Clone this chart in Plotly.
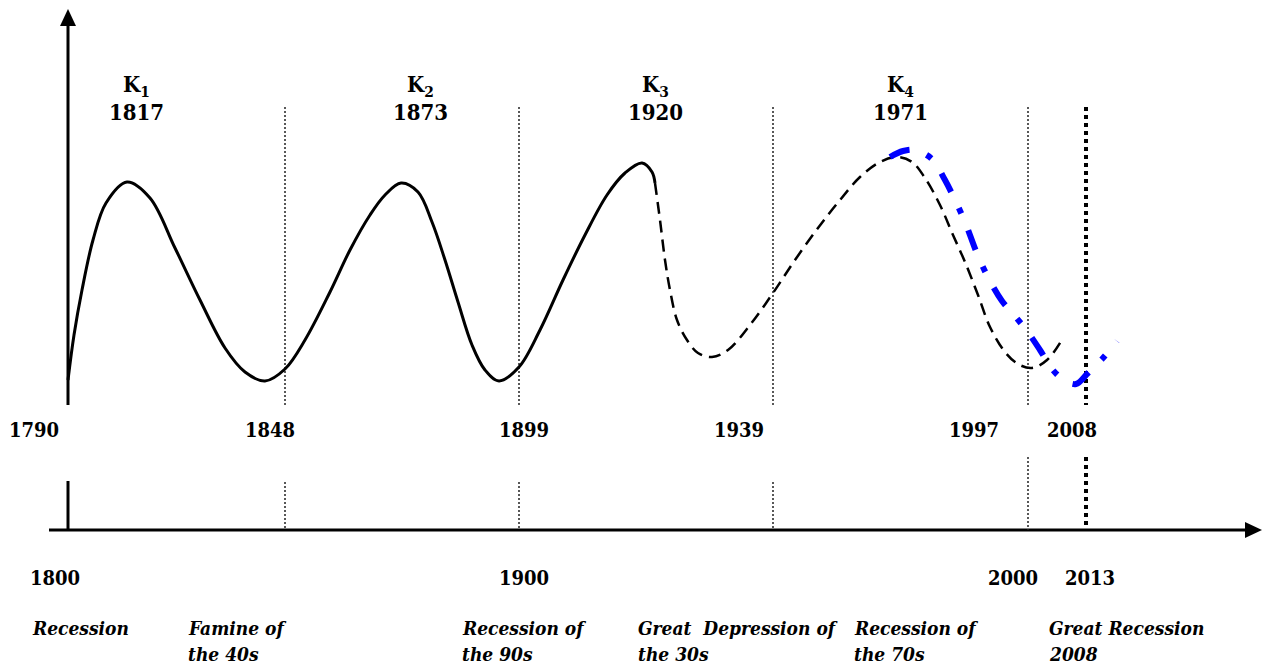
import plotly.graph_objects as go

# ---------------- data (diagram units: x to the right, y downwards) ----------------
solid_x = [68, 74, 82, 93, 106, 127, 150, 175, 200, 225, 245, 265, 285, 305, 330, 350, 370, 385, 401,
           418, 432, 445, 458, 472, 485, 499, 519, 540, 563, 585, 607, 625, 642, 652, 655]
solid_y = [380, 335, 290, 240, 203, 182, 198, 248, 300, 348, 372, 381, 369, 340, 292, 250, 215, 195, 183,
           192, 222, 260, 302, 345, 370, 381, 367, 330, 280, 235, 195, 173, 163, 172, 183]

dash_x = [655, 660, 665, 670, 677, 687, 698, 712, 728, 750, 773, 795, 818, 840, 860, 880, 897,
          912, 925, 940, 953, 965, 978, 990, 1005, 1018, 1032, 1047, 1063]
dash_y = [183, 220, 260, 290, 320, 340, 353, 357, 350, 325, 293, 260, 228, 200, 177, 162, 157,
          162, 178, 205, 235, 262, 295, 327, 352, 364, 368, 360, 338]

blue_x = [890, 903, 915, 932, 945, 955, 965, 978, 990, 1002, 1014, 1027, 1040, 1052, 1064, 1076, 1088, 1103, 1117]
blue_y = [157, 151, 150, 159, 180, 200, 222, 256, 281, 301, 315, 331, 350, 369, 380, 384, 373, 358, 341]

k_labels = ["K<sub>1</sub>", "K<sub>2</sub>", "K<sub>3</sub>", "K<sub>4</sub>"]
k_years = ["1817", "1873", "1920", "1971"]
k_x = [136, 420, 655, 900]

divider_x = [285, 519, 773, 1028]
upper_years = ["1790", "1848", "1899", "1939", "1997", "2008"]
upper_years_x = [34, 270, 524, 739, 974, 1072]
lower_years = ["1800", "1900", "2000", "2013"]
lower_years_x = [55, 524, 1013, 1090]

events_line1 = ["Recession", "Famine of", "Recession of", "Great\u00a0 Depression of", "Recession of", "Great Recession"]
events_line2 = ["", "the 40s", "the 90s", "the 30s", "the 70s", "2008"]
events_x = [30, 186, 460, 636, 852, 1047]

FONT = "DejaVu Serif Condensed, DejaVu Serif, serif"

fig = go.Figure()

fig.add_trace(go.Scatter(x=solid_x, y=solid_y, mode="lines",
                         line=dict(color="black", width=3, shape="spline", smoothing=1.0),
                         hoverinfo="skip"))
fig.add_trace(go.Scatter(x=dash_x, y=dash_y, mode="lines",
                         line=dict(color="black", width=2.5, shape="spline", smoothing=1.0,
                                   dash="12px,7px"),
                         hoverinfo="skip"))
fig.add_trace(go.Scatter(x=blue_x, y=blue_y, mode="lines",
                         line=dict(color="#0000FF", width=6, shape="spline", smoothing=1.0,
                                   dash="21px,18px,6px,18px"),
                         hoverinfo="skip"))

shapes = []
# axes
shapes.append(dict(type="line", x0=68, x1=68, y0=405, y1=22, line=dict(color="black", width=3)))
shapes.append(dict(type="line", x0=68, x1=68, y0=481, y1=531, line=dict(color="black", width=3)))
shapes.append(dict(type="path", path="M 68 9 L 60 26 L 76 26 Z", fillcolor="black", line=dict(width=0)))
shapes.append(dict(type="line", x0=49, x1=1250, y0=530, y1=530, line=dict(color="black", width=3)))
shapes.append(dict(type="path", path="M 1262 530 L 1245 522 L 1245 538 Z", fillcolor="black", line=dict(width=0)))

# thin dotted dividers
for i, xv in enumerate(divider_x):
    shapes.append(dict(type="line", x0=xv, x1=xv, y0=107, y1=405,
                       line=dict(color="#222", width=1.5, dash="2px,2px")))
    y_low = 457 if i == 3 else 482
    shapes.append(dict(type="line", x0=xv, x1=xv, y0=y_low, y1=530,
                       line=dict(color="#222", width=1.5, dash="2px,2px")))
# thick dotted 2008 line
shapes.append(dict(type="line", x0=1086, x1=1086, y0=107, y1=405,
                   line=dict(color="black", width=4, dash="4px,4px")))
shapes.append(dict(type="line", x0=1086, x1=1086, y0=457, y1=530,
                   line=dict(color="black", width=4, dash="4px,4px")))
for s in shapes:
    s["xref"] = "x"
    s["yref"] = "y"
    s["layer"] = "below"

ann = []
bold = dict(family=FONT, size=22, color="black")
for lab, yr, xv in zip(k_labels, k_years, k_x):
    ann.append(dict(x=xv, y=86, text="<b>" + lab + "</b>", showarrow=False, font=bold,
                    xanchor="center", yanchor="middle"))
    ann.append(dict(x=xv, y=112, text="<b>" + yr + "</b>", showarrow=False, font=bold,
                    xanchor="center", yanchor="middle"))
for yr, xv in zip(upper_years, upper_years_x):
    ann.append(dict(x=xv, y=430, text="<b>" + yr + "</b>", showarrow=False,
                    font=dict(family=FONT, size=20, color="black"),
                    xanchor="center", yanchor="middle"))
for yr, xv in zip(lower_years, lower_years_x):
    ann.append(dict(x=xv, y=578, text="<b>" + yr + "</b>", showarrow=False,
                    font=dict(family=FONT, size=20, color="black"),
                    xanchor="center", yanchor="middle"))
for l1, l2, xv in zip(events_line1, events_line2, events_x):
    ann.append(dict(x=xv, y=628, text="<b><i>" + l1 + "</i></b>", showarrow=False,
                    font=dict(family=FONT, size=19, color="black"),
                    xanchor="left", yanchor="middle"))
    if l2:
        ann.append(dict(x=xv, y=654, text="<b><i>" + l2 + "</i></b>", showarrow=False,
                        font=dict(family=FONT, size=19, color="black"),
                        xanchor="left", yanchor="middle"))

fig.update_layout(
    width=1262, height=664,
    margin=dict(l=0, r=0, t=0, b=0),
    paper_bgcolor="white", plot_bgcolor="white",
    showlegend=False,
    xaxis=dict(range=[0, 1262], visible=False, fixedrange=True),
    yaxis=dict(range=[664, 0], visible=False, fixedrange=True),
    shapes=shapes, annotations=ann,
)

fig.write_html("out.html", config={"displayModeBar": False},
               post_script="document.body.style.margin='0px';document.body.style.overflow='hidden';")
